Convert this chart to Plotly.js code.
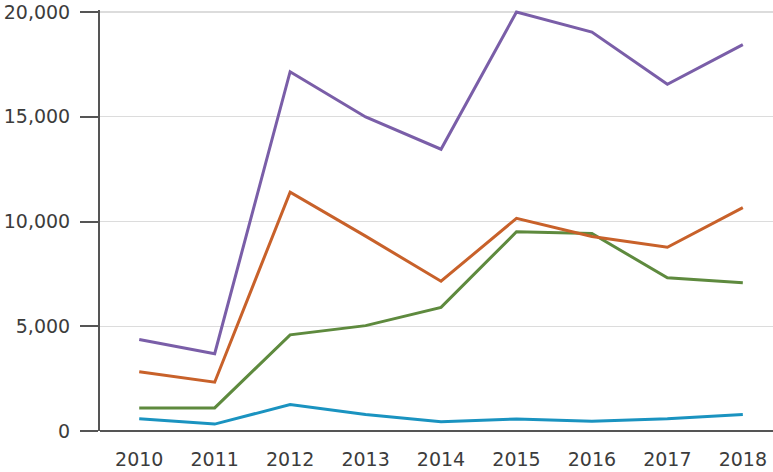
<!DOCTYPE html>
<html>
<head>
<meta charset="utf-8">
<script src="https://cdn.plot.ly/plotly-3.0.1.min.js"></script>
<style>
  html, body { margin: 0; padding: 0; background: #fff; }
  #chart { width: 773px; height: 472px; }
</style>
</head>
<body>
<div id="chart"></div>
<script>
// Yearly series, four lines
const years = ['2010', '2011', '2012', '2013', '2014', '2015', '2016', '2017', '2018'];
const purpleSeries = [4370, 3690, 17150, 14990, 13450, 20000, 19040, 16550, 18440];
const orangeSeries = [2830, 2330, 11400, 9300, 7150, 10150, 9280, 8770, 10660];
const greenSeries  = [1100, 1100, 4590, 5030, 5900, 9510, 9430, 7310, 7080];
const blueSeries   = [580, 330, 1260, 790, 440, 570, 470, 580, 790];
const yTicks = [0, 5000, 10000, 15000, 20000];
const yTickText = ['0', '5,000', '10,000', '15,000', '20,000'];

const colors = ['#7a5ea8', '#c8612a', '#5e8a3e', '#1a93c0'];
const seriesList = [purpleSeries, orangeSeries, greenSeries, blueSeries];

const traces = seriesList.map((vals, i) => ({
  type: 'scatter',
  mode: 'lines',
  x: years,
  y: vals,
  line: { color: colors[i], width: 3 },
  cliponaxis: false,
  hoverinfo: 'x+y'
})).reverse();

const font = { family: '"DejaVu Sans", sans-serif', size: 19, color: '#3c3c3c' };

const layout = {
  width: 773,
  height: 472,
  margin: { l: 100, r: 0, t: 10, b: 41 },
  paper_bgcolor: '#ffffff',
  plot_bgcolor: '#ffffff',
  showlegend: false,
  font: font,
  xaxis: {
    type: 'category',
    range: [-0.52, 8.4],
    showgrid: false,
    zeroline: false,
    showline: false,
    ticks: '',
    tickfont: font,
    ticklabelstandoff: 15
  },
  yaxis: {
    range: [0, 20095],
    tickvals: yTicks,
    ticktext: yTickText,
    ticklabeloverflow: 'allow',
    showgrid: true,
    gridcolor: '#dcdcdc',
    gridwidth: 1.5,
    zeroline: true,
    zerolinecolor: '#555555',
    zerolinewidth: 2,
    showline: true,
    linecolor: '#555555',
    linewidth: 2,
    ticks: 'outside',
    ticklen: 18,
    tickwidth: 2,
    tickcolor: '#555555',
    tickfont: font,
    ticklabelstandoff: 6
  }
};

Plotly.newPlot('chart', traces, layout, { displayModeBar: false, staticPlot: true });
</script>
</body>
</html>
